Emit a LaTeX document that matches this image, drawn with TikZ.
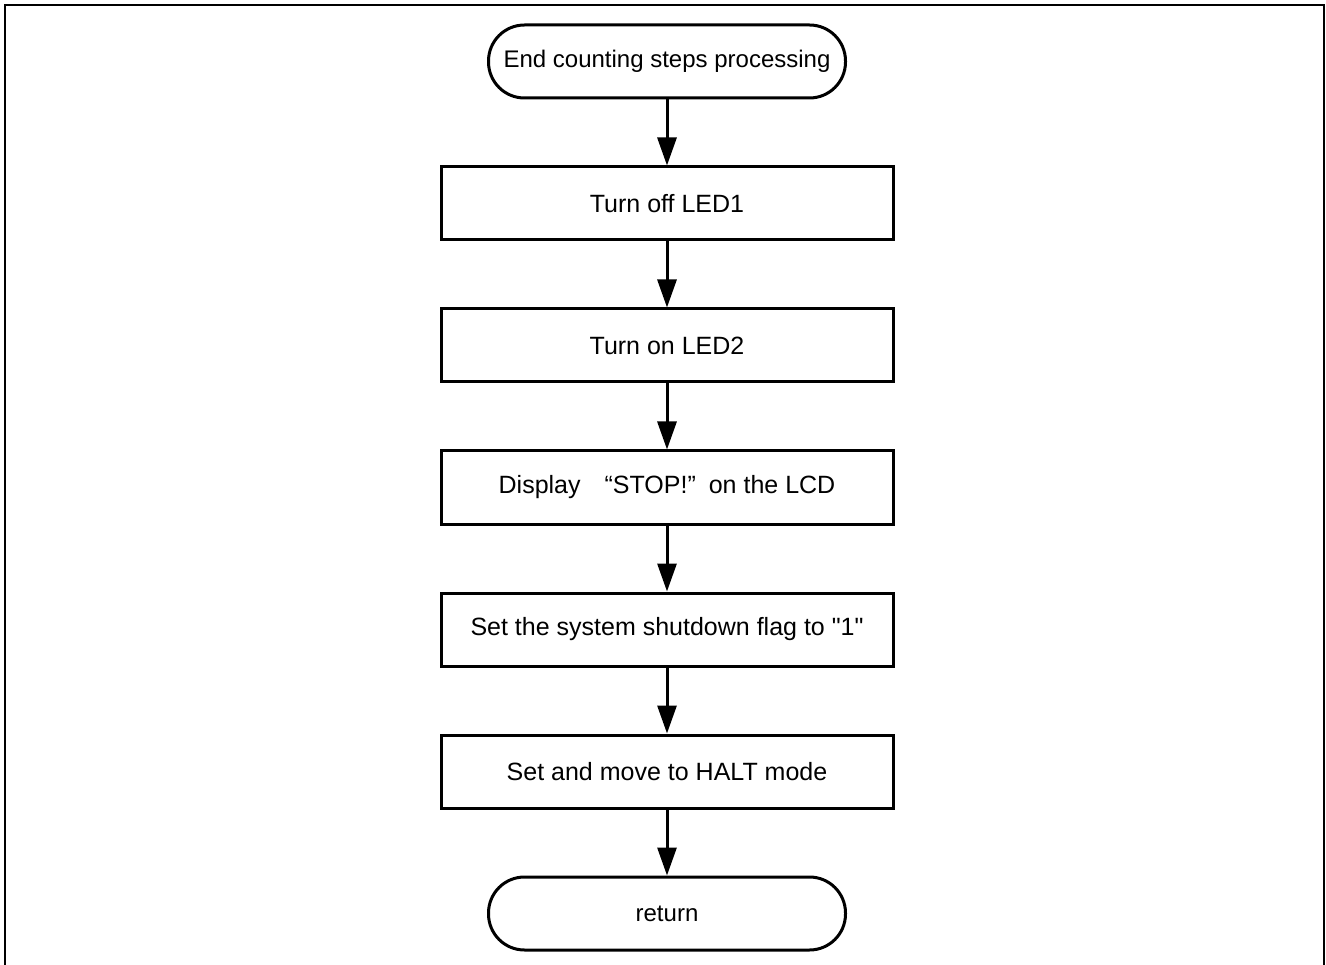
\documentclass[tikz,border=0pt]{standalone}
\usepackage{fontspec}
\setmainfont{Liberation Sans}[Ligatures=TeXOff]
\usetikzlibrary{arrows.meta}
\tikzset{
  base/.style={draw, line width=3pt, inner sep=0pt, align=center},
  procbox/.style={base, rectangle, minimum width=452pt, minimum height=73pt, font=\fontsize{25}{29}\selectfont},
  termbox/.style={base, rectangle, rounded corners=36pt, minimum width=357pt, minimum height=73pt, font=\fontsize{24}{28}\selectfont},
  flow/.style={line width=3pt, -{Triangle[length=28pt,width=19pt]}}
}
\begin{document}
\begin{tikzpicture}[x=1pt,y=-1pt]
\useasboundingbox (0,0) rectangle (1326,965);
\draw[line width=2pt] (5,975) -- (5,5) -- (1324,5) -- (1324,975);
\node[termbox] (start) at (667,61.5) {End counting steps processing};
\node[procbox] (b1) at (667,203.5) {Turn off LED1};
\node[procbox] (b2) at (667,345.5) {Turn on LED2};
\node[procbox] (b3) at (667,487.5) {Display\hspace{24pt}“STOP!”\hspace{13pt}on the LCD};
\node[procbox] (b4) at (667,629.5) {Set the system shutdown flag to "1"};
\node[procbox] (b5) at (667,771.5) {Set and move to HALT mode};
\node[termbox] (ret) at (667,913.5) {return};
\draw[flow] (start) -- (b1);
\draw[flow] (b1) -- (b2);
\draw[flow] (b2) -- (b3);
\draw[flow] (b3) -- (b4);
\draw[flow] (b4) -- (b5);
\draw[flow] (b5) -- (ret);
\end{tikzpicture}
\end{document}
